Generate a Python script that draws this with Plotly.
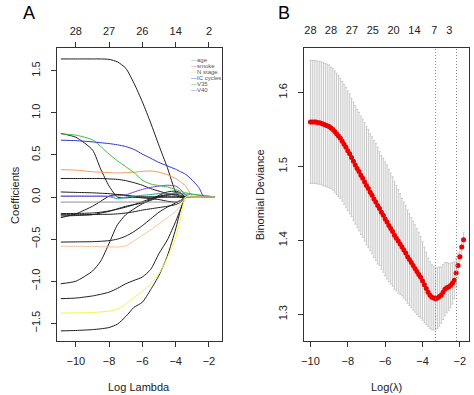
import plotly.graph_objects as go

# ---------------- Panel A: LASSO coefficient paths ----------------
log_lambda_path = [-10.9, -10.0, -9.0, -8.5, -8.0, -7.5, -7.0, -6.5, -6.0, -5.5,
                   -5.0, -4.5, -4.0, -3.7, -3.4, -3.0, -2.6, -2.3, -2.0, -1.65]

coef_black_top = [1.64, 1.64, 1.64, 1.64, 1.635, 1.605, 1.53, 1.35, 1.13, 0.88,
                  0.61, 0.35, 0.06, 0.0, 0.0, 0.0, 0.0, 0.0, 0.0, 0.0]
coef_black_075 = [0.755, 0.71, 0.56, 0.33, 0.13, 0.0, -0.01, 0.0, 0.0, 0.0,
                  0.0, 0.0, 0.0, 0.0, 0.0, 0.0, 0.0, 0.0, 0.0, 0.0]
coef_black_022 = [0.22, 0.22, 0.22, 0.22, 0.215, 0.21, 0.195, 0.17, 0.14, 0.10,
                  0.07, 0.04, 0.02, 0.0, 0.0, 0.0, 0.0, 0.0, 0.0, 0.0]
coef_black_006 = [0.06, 0.055, 0.05, 0.045, 0.04, 0.03, 0.02, 0.01, 0.0, 0.0,
                  0.0, 0.0, 0.0, 0.0, 0.0, 0.0, 0.0, 0.0, 0.0, 0.0]
coef_black_m024 = [-0.245, -0.20, -0.11, -0.05, 0.01, 0.03, 0.02, 0.0, -0.01, -0.02,
                   -0.03, -0.05, -0.06, -0.04, 0.0, 0.0, 0.0, 0.0, 0.0, 0.0]
coef_black_m020 = [-0.197, -0.195, -0.19, -0.18, -0.165, -0.145, -0.12, -0.09, -0.055, -0.02,
                   0.01, 0.03, 0.05, 0.04, 0.0, 0.0, 0.0, 0.0, 0.0, 0.0]
coef_black_m021 = [-0.21, -0.21, -0.208, -0.206, -0.205, -0.20, -0.19, -0.175, -0.155, -0.14,
                   -0.125, -0.11, -0.09, -0.06, 0.0, 0.0, 0.0, 0.0, 0.0, 0.0]
coef_black_m022 = [-0.225, -0.22, -0.21, -0.19, -0.17, -0.14, -0.11, -0.09, -0.07, -0.03,
                   0.02, 0.06, 0.07, 0.05, 0.0, 0.0, 0.0, 0.0, 0.0, 0.0]
coef_black_m053 = [-0.535, -0.533, -0.53, -0.526, -0.518, -0.50, -0.465, -0.41, -0.34, -0.26,
                   -0.18, -0.12, -0.07, -0.04, 0.0, 0.0, 0.0, 0.0, 0.0, 0.0]
coef_black_m103 = [-1.03, -1.0, -0.88, -0.76, -0.55, -0.33, -0.21, -0.14, -0.08, -0.04,
                   0.0, 0.02, 0.03, 0.02, 0.0, 0.0, 0.0, 0.0, 0.0, 0.0]
coef_black_m121 = [-1.207, -1.20, -1.175, -1.155, -1.13, -1.085, -1.03, -0.99, -0.95, -0.86,
                   -0.67, -0.51, -0.29, -0.14, 0.0, 0.0, 0.0, 0.0, 0.0, 0.0]
coef_black_m159 = [-1.59, -1.585, -1.575, -1.565, -1.55, -1.51, -1.42, -1.31, -1.25, -1.10,
                   -0.93, -0.70, -0.38, -0.15, 0.0, 0.0, 0.0, 0.0, 0.0, 0.0]
coef_age = [-0.06, -0.06, -0.06, -0.06, -0.06, -0.06, -0.06, -0.06, -0.06, -0.06,
            -0.06, -0.06, -0.06, -0.04, 0.0, 0.0, 0.0, 0.0, 0.0, 0.0]
coef_smoke = [0.325, 0.32, 0.30, 0.295, 0.29, 0.285, 0.29, 0.295, 0.305, 0.31,
              0.295, 0.265, 0.22, 0.18, 0.13, 0.01, 0.0, 0.0, 0.0, 0.0]
coef_peach = [-0.585, -0.585, -0.587, -0.59, -0.592, -0.594, -0.58, -0.52, -0.455, -0.39,
              -0.32, -0.245, -0.17, -0.10, 0.0, 0.0, 0.0, 0.0, 0.0, 0.0]
coef_n_stage = [-1.378, -1.376, -1.372, -1.365, -1.355, -1.33, -1.27, -1.19, -1.12, -1.03,
                -0.91, -0.72, -0.48, -0.24, 0.0, 0.0, 0.0, 0.0, 0.0, 0.0]
coef_ic_cycles = [0.675, 0.67, 0.655, 0.645, 0.635, 0.62, 0.60, 0.565, 0.51, 0.46,
                  0.41, 0.37, 0.33, 0.30, 0.27, 0.20, 0.11, 0.0, 0.0, 0.0]
coef_v35 = [0.75, 0.735, 0.68, 0.60, 0.51, 0.43, 0.36, 0.29, 0.20, 0.155,
            0.135, 0.12, 0.09, 0.07, 0.05, 0.035, 0.025, 0.018, 0.01, 0.0]
coef_v40 = [0.01, 0.01, 0.01, 0.01, 0.01, 0.015, 0.025, 0.06, 0.09, 0.115,
            0.13, 0.14, 0.13, 0.09, 0.02, 0.0, 0.0, 0.0, 0.0, 0.0]
coef_teal = [0.01, 0.01, 0.01, 0.01, 0.005, -0.02, 0.0, 0.01, 0.02, 0.03,
             0.04, 0.04, 0.04, 0.04, 0.035, 0.03, 0.02, 0.015, 0.01, 0.0]

top_a_pos = [-10, -8, -6, -4, -2]
top_a_labels = ["28", "27", "26", "14", "2"]

legend_labels = ["age", "smoke", "N stage", "IC cycles", "V35", "V40"]
legend_colors = ["#9a9a9a", "#e0707a", "#f2f08a", "#3a3ae0", "#3cba3c", "#7a4ae0"]

# ---------------- Panel B: cross-validation curve ----------------
cv_log_lambda = [-10.0, -9.9, -9.8, -9.7, -9.6, -9.5, -9.4, -9.3, -9.2, -9.1,
                 -9.0, -8.9, -8.8, -8.7, -8.6, -8.5, -8.4, -8.3, -8.2, -8.1,
                 -8.0, -7.9, -7.8, -7.7, -7.6, -7.5, -7.4, -7.3, -7.2, -7.1,
                 -7.0, -6.9, -6.8, -6.7, -6.6, -6.5, -6.4, -6.3, -6.2, -6.1,
                 -6.0, -5.9, -5.8, -5.7, -5.6, -5.5, -5.4, -5.3, -5.2, -5.1,
                 -5.0, -4.9, -4.8, -4.7, -4.6, -4.5, -4.4, -4.3, -4.2, -4.1,
                 -4.0, -3.9, -3.8, -3.7, -3.6, -3.5, -3.4, -3.3, -3.2, -3.1,
                 -3.0, -2.9, -2.8, -2.7, -2.6, -2.5, -2.4, -2.3, -2.2, -2.1,
                 -2.0, -1.9, -1.8]
cv_mean = [1.560, 1.560, 1.560, 1.560, 1.559, 1.559, 1.558, 1.557, 1.556, 1.555,
           1.554, 1.552, 1.550, 1.547, 1.544, 1.541, 1.538, 1.534, 1.530, 1.526,
           1.521, 1.517, 1.512, 1.507, 1.502, 1.497, 1.493, 1.488, 1.484, 1.479,
           1.474, 1.470, 1.465, 1.461, 1.456, 1.452, 1.447, 1.443, 1.438, 1.434,
           1.429, 1.425, 1.420, 1.416, 1.412, 1.407, 1.403, 1.399, 1.395, 1.391,
           1.387, 1.383, 1.378, 1.374, 1.370, 1.366, 1.362, 1.358, 1.354, 1.350,
           1.345, 1.340, 1.335, 1.330, 1.326, 1.323, 1.322, 1.321, 1.322, 1.324,
           1.326, 1.330, 1.334, 1.336, 1.337, 1.339, 1.342, 1.346, 1.356, 1.366,
           1.378, 1.391, 1.401]
cv_sd = [0.083, 0.083, 0.083, 0.083, 0.083, 0.083, 0.083, 0.083, 0.083, 0.083,
         0.083, 0.082, 0.082, 0.082, 0.082, 0.082, 0.081, 0.081, 0.081, 0.081,
         0.081, 0.081, 0.080, 0.080, 0.080, 0.080, 0.080, 0.080, 0.080, 0.080,
         0.080, 0.080, 0.079, 0.079, 0.079, 0.079, 0.079, 0.077, 0.077, 0.077,
         0.077, 0.077, 0.076, 0.075, 0.074, 0.073, 0.071, 0.070, 0.068, 0.066,
         0.065, 0.064, 0.063, 0.062, 0.061, 0.060, 0.059, 0.058, 0.057, 0.055,
         0.053, 0.051, 0.049, 0.046, 0.045, 0.044, 0.043, 0.042, 0.041, 0.040,
         0.038, 0.037, 0.036, 0.034, 0.032, 0.030, 0.028, 0.025, 0.020, 0.017,
         0.014, 0.012, 0.010]
lambda_min_log = -3.30
lambda_1se_log = -2.18

top_b_pos = [-10.0, -8.9, -7.78, -6.66, -5.55, -4.43, -3.37, -2.57]
top_b_labels = ["28", "28", "27", "25", "20", "14", "7", "3"]

# ---------------- Figure ----------------
W, H = 474, 395
FONT = "Liberation Sans, Arial, sans-serif"
INK = "#222222"

fig = go.Figure()

black_paths = [coef_black_top, coef_black_075, coef_black_022, coef_black_006,
               coef_black_m024, coef_black_m020, coef_black_m021, coef_black_m022,
               coef_black_m053, coef_black_m103, coef_black_m121, coef_black_m159]
colored_paths = [(coef_age, "#8c8c8c"), (coef_teal, "#1aa6a6"), (coef_peach, "#f5c49a"),
                 (coef_smoke, "#f39a5a"), (coef_v40, "#8a3ce0"), (coef_v35, "#3cc03c"),
                 (coef_ic_cycles, "#3030d8"), (coef_n_stage, "#f5f542")]

for ys in black_paths:
    fig.add_trace(go.Scatter(x=log_lambda_path, y=ys, mode="lines",
                             line=dict(color="#1e1e1e", width=1, shape="spline", smoothing=0.6),
                             xaxis="x", yaxis="y", showlegend=False, hoverinfo="skip"))
for ys, col in colored_paths:
    fig.add_trace(go.Scatter(x=log_lambda_path, y=ys, mode="lines",
                             line=dict(color=col, width=1, shape="spline", smoothing=0.6),
                             xaxis="x", yaxis="y", showlegend=False, hoverinfo="skip"))

# dummy traces so that the top axes are drawn
fig.add_trace(go.Scatter(x=[None], y=[None], xaxis="x3", yaxis="y", showlegend=False))
fig.add_trace(go.Scatter(x=[None], y=[None], xaxis="x4", yaxis="y2", showlegend=False))

fig.add_trace(go.Scatter(
    x=cv_log_lambda, y=cv_mean, mode="markers",
    marker=dict(color="#ee0000", size=5, line=dict(width=0)),
    error_y=dict(type="data", array=cv_sd, visible=True, color="#c8c8c8",
                 thickness=1, width=1),
    xaxis="x2", yaxis="y2", showlegend=False, hoverinfo="skip"))

for xv in (lambda_min_log, lambda_1se_log):
    fig.add_shape(type="line", xref="x2", yref="y2 domain", x0=xv, x1=xv, y0=0, y1=1,
                  line=dict(color="#8a8a8a", width=1, dash="1px,2px"))

def px_x(p):
    return p / W

def px_y(p):
    return 1 - p / H

xa = [px_x(54), px_x(220)]
xb = [px_x(303), px_x(469)]
yd = [px_y(341), px_y(48)]

axis_common = dict(showgrid=False, zeroline=False, showline=True, mirror=True,
                   linecolor="#333333", linewidth=1, ticks="outside", ticklen=5,
                   tickcolor="#333333", tickfont=dict(family=FONT, size=11, color=INK))

fig.update_layout(
    width=W, height=H, margin=dict(l=0, r=0, t=0, b=0),
    paper_bgcolor="white", plot_bgcolor="white", showlegend=False,
    xaxis=dict(domain=xa, anchor="y", range=[-11.15, -1.24], ticklabelstandoff=5,
               tickvals=[-10, -8, -6, -4, -2], **axis_common),
    yaxis=dict(domain=yd, anchor="x", range=[-1.71, 1.77], ticklabelstandoff=6,
               tickvals=[-1.5, -1.0, -0.5, 0.0, 0.5, 1.0, 1.5], tickformat=".1f",
               tickangle=-90, **axis_common),
    xaxis3=dict(overlaying="x", side="top", anchor="y", range=[-11.15, -1.24],
                tickvals=top_a_pos, ticktext=top_a_labels, showgrid=False, zeroline=False,
                showline=False, ticks="outside", ticklen=5, tickcolor="#333333",
                ticklabelstandoff=3,
                tickfont=dict(family=FONT, size=11, color=INK)),
    xaxis2=dict(domain=xb, anchor="y2", range=[-10.34, -1.51], ticklabelstandoff=5,
                tickvals=[-10, -8, -6, -4, -2], **axis_common),
    yaxis2=dict(domain=yd, anchor="x2", range=[1.264, 1.66], ticklabelstandoff=7,
                tickvals=[1.3, 1.4, 1.5, 1.6], tickformat=".1f",
                tickangle=-90, **axis_common),
    xaxis4=dict(overlaying="x2", side="top", anchor="y2", range=[-10.34, -1.51],
                tickvals=top_b_pos, ticktext=top_b_labels, showgrid=False, zeroline=False,
                showline=False, ticks="", ticklabelstandoff=11,
                tickfont=dict(family=FONT, size=11, color=INK)),
)

def label(text, x, y, size=11, angle=0, color=INK):
    return dict(text=text, x=px_x(x), y=px_y(y), xref="paper", yref="paper",
                xanchor="center", yanchor="middle", textangle=angle, showarrow=False,
                font=dict(family=FONT, size=size, color=color))

ann = [
    label("A", 26, 13, size=18, color="black"),
    label("B", 283, 13, size=18, color="black"),
    label("Log Lambda", 137, 387),
    label("Coefficients", 12, 195, angle=-90),
    label("Log(λ)", 386, 387),
    label("Binomial Deviance", 259, 195, angle=-90),
]
for i, (lab, col) in enumerate(zip(legend_labels, legend_colors)):
    ann.append(dict(text=f"<span style='color:{col}'>—</span>{lab}",
                    x=px_x(187), y=px_y(60 + 6 * i), xref="paper", yref="paper",
                    xanchor="left", yanchor="middle", showarrow=False,
                    font=dict(family=FONT, size=6, color="#555555")))
fig.update_layout(annotations=ann)

fig.write_html("out.html", config={"displayModeBar": False},
               post_script="document.body.style.margin='0px';")
